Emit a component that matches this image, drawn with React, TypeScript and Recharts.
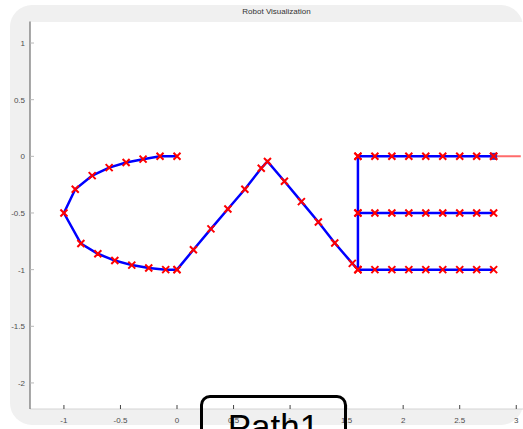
import { Scatter, ScatterChart, XAxis, YAxis } from 'recharts'

// "C" stroke, from top end round to bottom end
const cCurveX = [0, -0.15, -0.3, -0.45, -0.6, -0.75, -0.9, -1.0, -0.85, -0.7, -0.55, -0.4, -0.25, -0.1, 0]
const cCurveY = [0, 0, -0.025, -0.055, -0.1, -0.17, -0.29, -0.5, -0.77, -0.86, -0.92, -0.96, -0.985, -1.0, -1.0]

// "^" stroke
const peakX = [0, 0.145, 0.3, 0.45, 0.6, 0.745, 0.8, 0.95, 1.1, 1.25, 1.395, 1.55, 1.6]
const peakY = [-1, -0.825, -0.64, -0.465, -0.29, -0.105, -0.045, -0.22, -0.4, -0.58, -0.765, -0.945, -1.0]

// "E" stroke
const spineX = [1.6, 1.6, 1.6]
const spineY = [-1, -0.5, 0]
const barX = [1.6, 1.75, 1.9, 2.05, 2.2, 2.35, 2.5, 2.65, 2.8]
const barLevels = [0, -0.5, -1]

// robot arm at the end of the path
const robotX = [2.8, 3.04]
const robotY = [0, 0]

const xTicks = [-1, -0.5, 0, 0.5, 1, 1.5, 2, 2.5, 3]
const yTicks = [-2, -1.5, -1, -0.5, 0, 0.5, 1]

const zip = (xs: number[], ys: number[]) => xs.map((x, i) => ({ x, y: ys[i] }))

const cData = zip(cCurveX, cCurveY)
const peakData = zip(peakX, peakY)
const spineData = zip(spineX, spineY)
const barData = barLevels.map((lv) => zip(barX, barX.map(() => lv)))
const robotData = zip(robotX, robotY)

const FONT = '"Liberation Sans", Arial, sans-serif'

const Cross = (props: any) => {
  const { cx, cy } = props
  if (cx == null || cy == null) return null
  const s = 3.5
  return (
    <path
      d={`M${cx - s},${cy - s}L${cx + s},${cy + s}M${cx - s},${cy + s}L${cx + s},${cy - s}`}
      stroke="#ff0000"
      strokeWidth={2}
      fill="none"
    />
  )
}

const RobotShape = (props: any) => {
  const { cx, cy, index } = props
  if (index !== 0) return <g />
  return (
    <g>
      <rect x={cx - 3.5} y={cy - 3.5} width={7} height={7} fill="#3030c0" />
      <Cross cx={cx} cy={cy} />
    </g>
  )
}

const XTick = (props: any) => {
  const { x, payload } = props
  return (
    <g>
      <line x1={x} y1={409} x2={x} y2={405} stroke="#444" strokeWidth={1} />
      <text x={x} y={423} textAnchor="middle" fontSize={8} fill="#4d4d4d" fontFamily={FONT}>
        {payload.value}
      </text>
    </g>
  )
}

const YTick = (props: any) => {
  const { y, payload } = props
  return (
    <g>
      <line x1={30} y1={y} x2={34} y2={y} stroke="#b8b8b8" strokeWidth={1} />
      <text x={25} y={y + 3} textAnchor="end" fontSize={8} fill="#4d4d4d" fontFamily={FONT}>
        {payload.value}
      </text>
    </g>
  )
}

const lineStyle = { stroke: '#0000ff', strokeWidth: 2.5 }

export default function App() {
  return (
    <div style={{ position: 'absolute', left: 0, top: 0, width: 523, height: 429, overflow: 'hidden', background: '#fff' }}>
      <div
        style={{
          position: 'absolute',
          left: 10,
          top: 5,
          width: 513,
          height: 420,
          background: '#f0f0f0',
          borderRadius: 22,
        }}
      />
      <div style={{ position: 'absolute', left: 30, top: 21.5, width: 520, height: 387.5, background: '#fff' }} />
      <div
        style={{
          position: 'absolute',
          left: 30,
          width: 493,
          top: 7,
          textAlign: 'center',
          fontFamily: FONT,
          fontSize: 8,
          color: '#333',
        }}
      >
        Robot Visualization
      </div>
      <div style={{ position: 'absolute', left: 0, top: 0 }}>
        <ScatterChart width={540} height={429} margin={{ top: 21.5, right: 0, bottom: 0, left: 0 }}>
          <XAxis
            type="number"
            dataKey="x"
            domain={[-1.3, 3.21]}
            ticks={xTicks}
            allowDataOverflow
            height={20}
            stroke="#d4d4d4"
            tickLine={false}
            tick={<XTick />}
            interval={0}
          />
          <YAxis
            type="number"
            dataKey="y"
            domain={[-2.23, 1.19]}
            ticks={yTicks}
            allowDataOverflow
            width={30}
            stroke="#555"
            tickLine={false}
            tick={<YTick />}
            interval={0}
          />
          <Scatter data={cData} line={lineStyle} lineType="joint" shape={<Cross />} isAnimationActive={false} />
          <Scatter data={peakData} line={lineStyle} lineType="joint" shape={<Cross />} isAnimationActive={false} />
          <Scatter data={spineData} line={lineStyle} lineType="joint" shape={<Cross />} isAnimationActive={false} />
          {barData.map((d, i) => (
            <Scatter key={i} data={d} line={lineStyle} lineType="joint" shape={<Cross />} isAnimationActive={false} />
          ))}
          <Scatter
            data={robotData}
            line={{ stroke: '#ff6b6b', strokeWidth: 2 }}
            lineType="joint"
            shape={<RobotShape />}
            isAnimationActive={false}
          />
        </ScatterChart>
      </div>
      <div
        style={{
          position: 'absolute',
          left: 200,
          top: 395,
          width: 141,
          height: 60,
          border: '3px solid #000',
          borderRadius: 10,
          fontFamily: FONT,
          fontSize: 35,
          color: '#000',
          textAlign: 'center',
          lineHeight: '58px',
          boxSizing: 'content-box',
        }}
      >
        Path1
      </div>
    </div>
  )
}
